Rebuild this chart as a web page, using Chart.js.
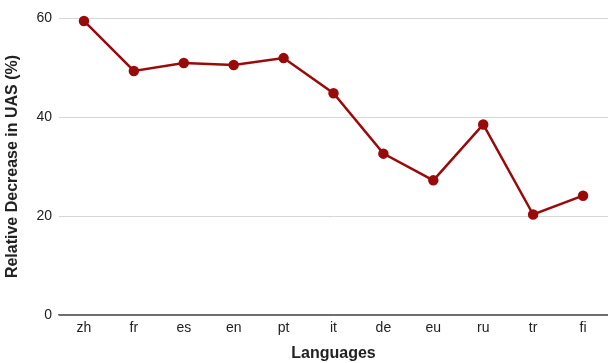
<!DOCTYPE html>
<html>
<head>
<meta charset="utf-8">
<script src="https://cdn.jsdelivr.net/npm/chart.js@4"></script>
<style>
  html, body { margin: 0; padding: 0; background: #fff; overflow: hidden; }
  canvas { display: block; }
</style>
</head>
<body>
<canvas id="myChart" width="608" height="363"></canvas>
<script>
'use strict';

// ******* DATA *******
let languages = ['zh', 'fr', 'es', 'en', 'pt', 'it', 'de', 'eu', 'ru', 'tr', 'fi'];
let uasDecrease = [59.4, 49.3, 50.9, 50.5, 51.9, 44.8, 32.6, 27.2, 38.5, 20.3, 24.1];
let yTicks = [0, 20, 40, 60];

// ******* CHART *******
Chart.defaults.font.family = '"Liberation Sans", Arial, sans-serif';
Chart.defaults.color = '#222';

const ctx = document.getElementById('myChart').getContext('2d');
const myChart = new Chart(ctx, {
  type: 'line',
  data: {
    labels: languages,
    datasets: [{
      data: uasDecrease,
      borderColor: '#990b0b',
      backgroundColor: '#990b0b',
      borderWidth: 2.5,
      pointRadius: 4,
      pointHoverRadius: 4,
      tension: 0,
      clip: false
    }]
  },
  options: {
    responsive: false,
    animation: false,
    layout: { autoPadding: false, padding: { top: 18, right: 0, left: 0, bottom: 0 } },
    plugins: {
      legend: { display: false },
      tooltip: { enabled: false }
    },
    scales: {
      x: {
        offset: true,
        afterFit: function (axis) {
          axis.paddingLeft = 0;
          axis.paddingRight = 0;
        },
        grid: { display: false, drawTicks: false },
        border: { display: true, color: '#6e6e6e', width: 1.5 },
        ticks: { font: { size: 14 }, padding: 5, color: '#222' },
        title: {
          display: true,
          text: 'Languages',
          font: { size: 16, weight: 'bold' },
          padding: { top: 2, bottom: 0 },
          color: '#222'
        }
      },
      y: {
        min: 0,
        max: 60,
        afterBuildTicks: function (axis) {
          axis.ticks = yTicks.map(v => ({ value: v }));
        },
        afterFit: function (axis) {
          axis.width = 59;
          axis.paddingTop = 0;
          axis.paddingBottom = 0;
        },
        grid: {
          drawTicks: false,
          color: function (c) {
            return c.tick && c.tick.value === 0 ? '#6e6e6e' : '#d6d6d6';
          }
        },
        border: { display: false },
        ticks: { font: { size: 14 }, padding: 7, color: '#222' },
        title: {
          display: true,
          text: 'Relative Decrease in UAS (%)',
          font: { size: 16, weight: 'bold' },
          padding: { top: 3, bottom: 0 },
          color: '#222'
        }
      }
    }
  }
});
</script>
</body>
</html>
